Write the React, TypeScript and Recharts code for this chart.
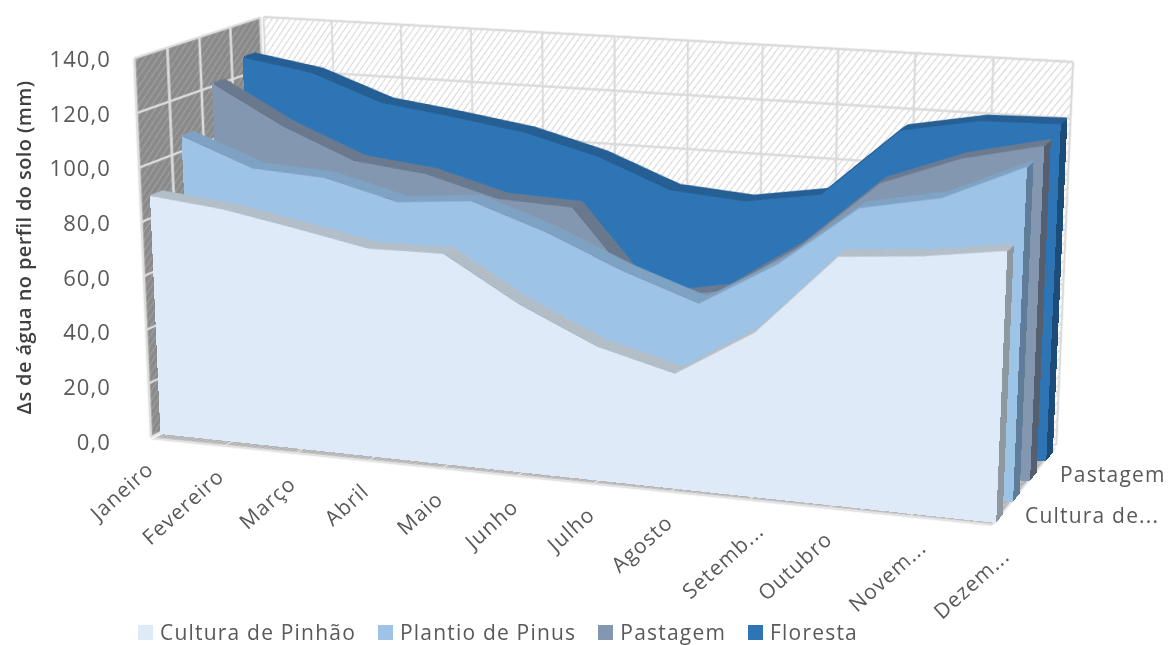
import React from 'react';
import { AreaChart, Area, XAxis, YAxis, CartesianGrid, Legend } from 'recharts';

const months = ['Janeiro', 'Fevereiro', 'Março', 'Abril', 'Maio', 'Junho', 'Julho', 'Agosto', 'Setemb...', 'Outubro', 'Novem...', 'Dezem...'];
const depthStops = ['Cultura de Pinhão', 'Plantio de Pinus', 'Pastagem', 'Floresta', 'fundo'];
const yTicks = [0, 20, 40, 60, 80, 100, 120, 140];
const depthTicks = [0, 140];
const depthLabels = ['Pastagem', 'Cultura de...'];

const culturaValues = [88.8, 86.1, 81.3, 76.1, 76.5, 60.6, 48.3, 41.2, 58.3, 86.6, 89.0, 93.0];
const plantioValues = [106.0, 96.0, 94.5, 87.7, 90.1, 81.0, 69.5, 60.1, 76.4, 98.0, 103.5, 116.0];
const pastagemValues = [121.1, 106.8, 95.9, 93.0, 85.8, 84.8, 53.6, 58.8, 77.1, 101.5, 112.0, 118.3];
const florestaValues = [126.7, 122.5, 113.0, 109.5, 105.5, 98.5, 88.0, 86.0, 90.5, 115.2, 120.3, 121.0];

const W = 1000;
const H = 400;
const TOTAL_W = 1168;
const TOTAL_H = 645;

type Pt = [number, number];
type Quad = [Pt, Pt, Pt, Pt]; // TL, TR, BR, BL

// cube corners on screen
const frontQuad: Quad = [[132, 57], [1010, 110], [993, 527], [149, 440]];
const backQuad: Quad = [[262, 15], [1075, 60], [1058, 447], [276, 373]];

const lerp = (a: Pt, b: Pt, t: number): Pt => [a[0] + (b[0] - a[0]) * t, a[1] + (b[1] - a[1]) * t];

// depth runs faster on the far left than on the near right
const planeAt = (tLeft: number, tRight: number): Quad => [
  lerp(frontQuad[0], backQuad[0], tLeft),
  lerp(frontQuad[1], backQuad[1], tRight),
  lerp(frontQuad[2], backQuad[2], tRight),
  lerp(frontQuad[3], backQuad[3], tLeft),
];

const solve = ([p0, p1, p2, p3]: Quad) => {
  const dx1 = p1[0] - p2[0], dx2 = p3[0] - p2[0], sx = p0[0] - p1[0] + p2[0] - p3[0];
  const dy1 = p1[1] - p2[1], dy2 = p3[1] - p2[1], sy = p0[1] - p1[1] + p2[1] - p3[1];
  const den = dx1 * dy2 - dx2 * dy1;
  const g = (sx * dy2 - dx2 * sy) / den;
  const h = (dx1 * sy - sx * dy1) / den;
  return {
    a: p1[0] - p0[0] + g * p1[0], b: p3[0] - p0[0] + h * p3[0], c: p0[0],
    d: p1[1] - p0[1] + g * p1[1], e: p3[1] - p0[1] + h * p3[1], f: p0[1],
    g, h,
  };
};

const toMatrix = (q: Quad, w: number, h: number) => {
  const m = solve(q);
  return `matrix3d(${m.a / w},${m.d / w},0,${m.g / w},${m.b / h},${m.e / h},0,${m.h / h},0,0,1,0,${m.c},${m.f},0,1)`;
};

const project = (q: Quad, u: number, v: number): Pt => {
  const m = solve(q);
  const z = m.g * u + m.h * v + 1;
  return [(m.a * u + m.b * v + m.c) / z, (m.d * u + m.e * v + m.f) / z];
};

const planeStyle = (q: Quad, w: number, h: number): React.CSSProperties => ({
  position: 'absolute', left: 0, top: 0, width: w, height: h, transformOrigin: '0 0', transform: toMatrix(q, w, h),
});

const rows = (values: number[]) => months.map((month, i) => ({ month, value: values[i] }));

const seriesList = [
  { name: 'Floresta', values: florestaValues, tL: 0.84, tR: 0.82, fill: '#2E75B6', top: '#255F94', side: '#1D4C78' },
  { name: 'Pastagem', values: pastagemValues, tL: 0.6, tR: 0.57, fill: '#8497B0', top: '#6B7A8F', side: '#565F70' },
  { name: 'Plantio de Pinus', values: plantioValues, tL: 0.35, tR: 0.31, fill: '#9DC3E6', top: '#7FA3C4', side: '#5F7D99' },
  { name: 'Cultura de Pinhão', values: culturaValues, tL: 0.09, tR: 0.05, fill: '#DEEAF8', top: '#B4BFC9', side: '#8E989F' },
];
const legendOrder = [...seriesList].reverse();

const THICK_L = 0.09;
const THICK_R = 0.1;
const STEPS = 8;
const font = '"Open Sans", sans-serif';
const margin0 = { top: 0, right: 0, bottom: 0, left: 0 };
const margin2 = { top: 2, right: 2, bottom: 2, left: 2 };

// one flat chart, bent onto one plane of the box
const SeriesPlane = ({ q, values, fill, stroke, sw }: { q: Quad; values: number[]; fill: string; stroke: string; sw: number }) => (
  <div style={planeStyle(q, W, H)}>
    <AreaChart width={W} height={H} data={rows(values)} margin={margin0}>
      <XAxis dataKey="month" hide />
      <YAxis domain={[0, 140]} hide />
      <Area dataKey="value" type="linear" fill={fill} fillOpacity={1} stroke={stroke} strokeWidth={sw} dot={false} isAnimationActive={false} />
    </AreaChart>
  </div>
);

const Wall = (props: { q: Quad; w: number; h: number; id: string; cats: string[]; ticks: number[]; bg: string; line: string; hatch: string; sw: number }) => {
  const { q, w, h, id, cats, ticks, bg, line, hatch, sw } = props;
  // same wall turned a quarter: the chart's x runs up the wall, so its vertical grid gives the level lines
  const turned: Quad = [q[3], q[0], q[1], q[2]];
  return (
    <>
      <div style={planeStyle(q, w, h)}>
        <AreaChart width={w} height={h} data={cats.map((c) => ({ c }))} margin={margin2}>
          <defs>
            <pattern id={id} width={6} height={6} patternUnits="userSpaceOnUse" patternTransform="rotate(40)">
              <rect width={6} height={6} fill={bg} />
              <line x1={0} y1={0} x2={0} y2={6} stroke={hatch} strokeWidth={2} />
            </pattern>
          </defs>
          <CartesianGrid stroke={line} strokeWidth={sw} fill={`url(#${id})`} fillOpacity={1} horizontal={false} />
          <XAxis dataKey="c" hide interval={0} />
          <YAxis domain={[0, 140]} hide />
        </AreaChart>
      </div>
      <div style={planeStyle(turned, h, w)}>
        <AreaChart width={h} height={w} data={ticks.map((v) => ({ c: String(v) }))} margin={margin2}>
          <CartesianGrid stroke={line} strokeWidth={sw} horizontal={false} />
          <XAxis dataKey="c" hide interval={0} />
          <YAxis domain={[0, 140]} hide />
        </AreaChart>
      </div>
    </>
  );
};

const MonthTick = ({ x, payload }: any) => {
  const u = (x - 118) / (TOTAL_W - 118 - 30);
  const [ex, ey] = project(frontQuad, u, 1);
  const tx = ex + (payload.value.endsWith('...') ? 14 : 2);
  const ty = ey + 27;
  return (
    <text x={tx} y={ty} textAnchor="end" dominantBaseline="middle" transform={`rotate(-42 ${tx} ${ty})`} fill="#595959" fontSize={21} letterSpacing={1} fontFamily={font}>
      {payload.value}
    </text>
  );
};

const renderLegend = () => (
  <div style={{ display: 'flex', justifyContent: 'flex-start', paddingLeft: 138, alignItems: 'center', height: 40, position: 'relative', top: 7, fontFamily: font, fontSize: 21, letterSpacing: 1.2, color: '#595959' }}>
    {legendOrder.map((s) => (
      <span key={s.name} style={{ display: 'inline-flex', alignItems: 'center', marginRight: 22 }}>
        <span style={{ width: 15, height: 15, background: s.fill, marginRight: 7, display: 'inline-block' }} />
        {s.name}
      </span>
    ))}
  </div>
);

export default function App() {
  return (
    <div style={{ position: 'absolute', left: 0, top: 0, width: TOTAL_W, height: TOTAL_H, overflow: 'hidden', background: '#fff' }}>
      <Wall q={backQuad} w={W} h={H} id="hatchBack" cats={months} ticks={yTicks} bg="#ffffff" line="#DADADA" hatch="#CECECE" sw={2.5} />
      <Wall q={[frontQuad[0], backQuad[0], backQuad[3], frontQuad[3]]} w={130} h={H} id="hatchLeft" cats={depthStops} ticks={yTicks} bg="#8A8A8A" line="#DDDDDD" hatch="#A6A6A6" sw={2.5} />
      <Wall q={[backQuad[3], backQuad[2], frontQuad[2], frontQuad[3]]} w={W} h={90} id="hatchFloor" cats={months} ticks={depthTicks} bg="#B4B4B4" line="#E2E2E2" hatch="#D2D2D2" sw={2.5} />

      {seriesList.map((s) => (
        <React.Fragment key={s.name}>
          {Array.from({ length: STEPS }, (_, i) => (
            <SeriesPlane
              key={i}
              q={planeAt(s.tL + (THICK_L * (STEPS - i)) / STEPS, s.tR + (THICK_R * (STEPS - i)) / STEPS)}
              values={s.values}
              fill={s.side}
              stroke={s.top}
              sw={2}
            />
          ))}
          <SeriesPlane q={planeAt(s.tL, s.tR)} values={s.values} fill={s.fill} stroke="none" sw={0} />
        </React.Fragment>
      ))}

      <div style={{ position: 'absolute', left: 0, top: 0 }}>
        <AreaChart width={TOTAL_W} height={TOTAL_H} data={rows(culturaValues)} margin={{ top: 59, right: 30, bottom: 0, left: 0 }}>
          <XAxis dataKey="month" height={163} axisLine={false} tickLine={false} interval={0} tick={<MonthTick />} />
          <YAxis
            width={118}
            domain={[0, 140]}
            ticks={yTicks}
            axisLine={false}
            tickLine={false}
            tickMargin={1}
            tickFormatter={(v: number) => v.toFixed(1).replace('.', ',')}
            tick={{ fill: '#595959', fontSize: 22, letterSpacing: 1.1, fontFamily: font }}
            label={{ value: 'Δs de água no perfil do solo  (mm)', angle: -90, position: 'insideLeft', offset: 24, dy: -3, style: { fill: '#404040', fontSize: 20, fontWeight: 600, letterSpacing: 0.4, fontFamily: font, textAnchor: 'middle' } }}
          />
          <Area dataKey="value" fill="none" stroke="none" isAnimationActive={false} />
          <Legend verticalAlign="bottom" align="left" height={40} content={renderLegend} />
        </AreaChart>
      </div>

      {depthLabels.map((label, i) => (
        <span key={label} style={{ position: 'absolute', left: i === 0 ? 1060 : 1025, top: i === 0 ? 460 : 501, fontFamily: font, fontSize: 21, letterSpacing: 1.2, color: '#595959' }}>
          {label}
        </span>
      ))}
    </div>
  );
}
